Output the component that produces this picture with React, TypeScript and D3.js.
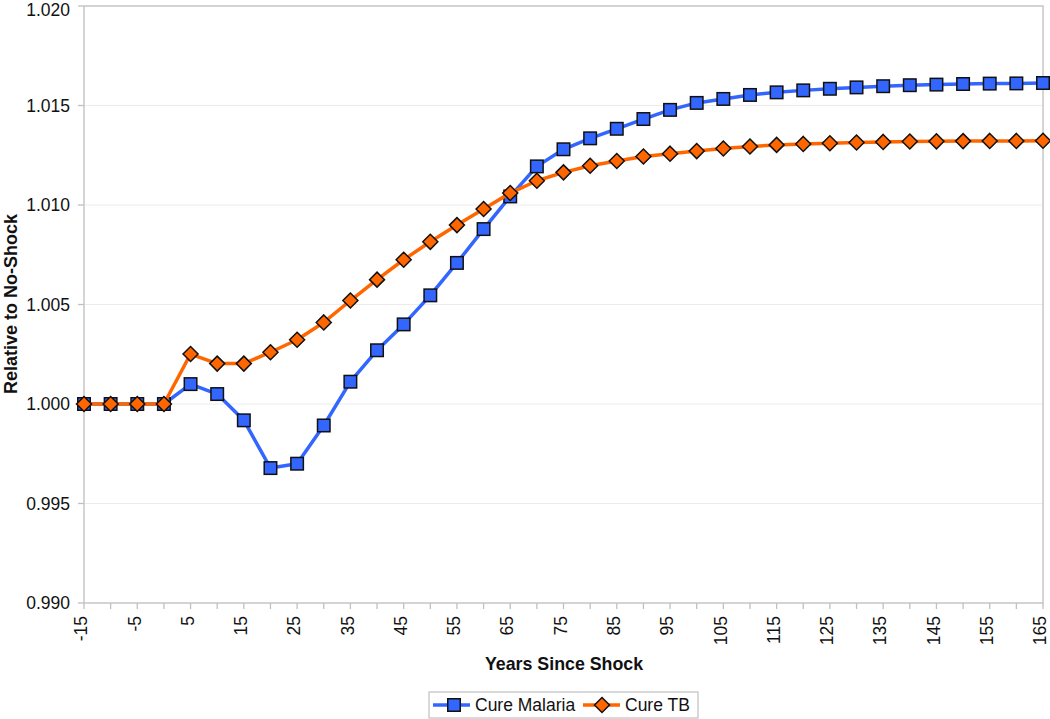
import React from "react";
import * as d3 from "d3";

const years: number[] = [-15, -10, -5, 0, 5, 10, 15, 20, 25, 30, 35, 40, 45, 50, 55, 60, 65, 70, 75, 80, 85, 90, 95, 100, 105, 110, 115, 120, 125, 130, 135, 140, 145, 150, 155, 160, 165];

const cureMalaria: number[] = [1.0, 1.0, 1.0, 1.0, 1.001, 1.0005, 0.99918, 0.99678, 0.997, 0.99892, 1.00112, 1.0027, 1.004, 1.00546, 1.00709, 1.00879, 1.01043, 1.01194, 1.0128, 1.01335, 1.01383, 1.01432, 1.01478, 1.01513, 1.01533, 1.01553, 1.01566, 1.01576, 1.01584, 1.01591, 1.01597, 1.01602, 1.01605, 1.01608, 1.0161, 1.01611, 1.01613];

const cureTB: number[] = [1.0, 1.0, 1.0, 1.0, 1.00251, 1.00203, 1.00203, 1.0026, 1.00323, 1.0041, 1.0052, 1.00625, 1.00725, 1.00815, 1.00899, 1.0098, 1.0106, 1.01122, 1.01164, 1.01197, 1.01221, 1.01244, 1.01258, 1.01271, 1.01284, 1.01294, 1.01302, 1.01307, 1.0131, 1.01314, 1.01317, 1.01319, 1.0132, 1.01321, 1.01322, 1.01322, 1.01323];

const yTicks: number[] = [0.99, 0.995, 1.0, 1.005, 1.01, 1.015, 1.02];
const seriesNames: string[] = ["Cure Malaria", "Cure TB"];

const W = 1050;
const H = 719;
const FONT = "'Liberation Sans', Arial, sans-serif";
const BLUE = "#3366FF";
const ORANGE = "#FF6600";

export default function App() {
  const left = 84;
  const right = 1043;
  const top = 6;
  const bottom = 603;

  const x = d3.scalePoint<number>().domain(years).range([left, right]).padding(0);
  const y = d3.scaleLinear().domain([0.99, 1.02]).range([bottom, top]);

  const line = d3
    .line<number>()
    .x((_, i) => x(years[i]) as number)
    .y((d) => y(d));

  const sq = 12.5;
  const dm = 7.5;
  const diamond = (cx: number, cy: number, r: number) =>
    `M${cx},${cy - r}L${cx + r},${cy}L${cx},${cy + r}L${cx - r},${cy}Z`;

  return (
    <svg width={W} height={H} style={{ position: "absolute", left: 0, top: 0, background: "#fff" }} fontFamily={FONT}>
      {yTicks.map((t) => (
        <line key={"g" + t} x1={left} x2={right} y1={y(t)} y2={y(t)} stroke="#ececec" strokeWidth={1} />
      ))}
      <rect x={left} y={top} width={right - left} height={bottom - top} fill="none" stroke="#c8c8c8" strokeWidth={1.5} />
      {yTicks.map((t) => (
        <g key={"yt" + t}>
          <line x1={left - 6} x2={left} y1={y(t)} y2={y(t)} stroke="#c0c0c0" strokeWidth={1.3} />
          <text x={70} y={Math.max(y(t), 10)} dy="0.35em" textAnchor="end" fontSize={17.5} fill="#111">
            {d3.format(".3f")(t)}
          </text>
        </g>
      ))}
      {years.map((yr, i) => (
        <g key={"xt" + yr}>
          <line x1={x(yr)} x2={x(yr)} y1={bottom} y2={bottom + 6} stroke="#c0c0c0" strokeWidth={1.3} />
          {i % 2 === 0 && (
            <text
              transform={`translate(${(x(yr) as number) - 2},${616}) rotate(-90)`}
              textAnchor="end"
              dy="0.3em"
              fontSize={17.5}
              fill="#111"
            >
              {yr}
            </text>
          )}
        </g>
      ))}
      <text x={564} y={664} dy="0.35em" textAnchor="middle" fontSize={17.8} fontWeight="bold" fill="#111">
        Years Since Shock
      </text>
      <text transform={`translate(11,${304}) rotate(-90)`} textAnchor="middle" dy="0.35em" fontSize={18} fontWeight="bold" fill="#111">
        Relative to No-Shock
      </text>

      <path d={line(cureMalaria) || ""} fill="none" stroke={BLUE} strokeWidth={3.5} strokeLinejoin="round" />
      {cureMalaria.map((v, i) => (
        <rect
          key={"m" + i}
          x={(x(years[i]) as number) - sq / 2}
          y={y(v) - sq / 2}
          width={sq}
          height={sq}
          fill={BLUE}
          stroke="#111"
          strokeWidth={1.5}
        />
      ))}
      <path d={line(cureTB) || ""} fill="none" stroke={ORANGE} strokeWidth={3.5} strokeLinejoin="round" />
      {cureTB.map((v, i) => (
        <path key={"t" + i} d={diamond(x(years[i]) as number, y(v), dm)} fill={ORANGE} stroke="#111" strokeWidth={1.5} />
      ))}

      <rect x={429} y={692} width={269} height={26} fill="#fff" stroke="#c0c0c0" strokeWidth={1.2} />
      <line x1={433} x2={470} y1={705} y2={705} stroke={BLUE} strokeWidth={3.5} />
      <rect x={454 - sq / 2} y={705 - sq / 2} width={sq} height={sq} fill={BLUE} stroke="#111" strokeWidth={1.5} />
      <text x={475} y={705} dy="0.35em" fontSize={17.5} fill="#111">
        {seriesNames[0]}
      </text>
      <line x1={583} x2={620} y1={705} y2={705} stroke={ORANGE} strokeWidth={3.5} />
      <path d={diamond(602, 705, dm)} fill={ORANGE} stroke="#111" strokeWidth={1.5} />
      <text x={625} y={705} dy="0.35em" fontSize={17.5} fill="#111">
        {seriesNames[1]}
      </text>
    </svg>
  );
}
